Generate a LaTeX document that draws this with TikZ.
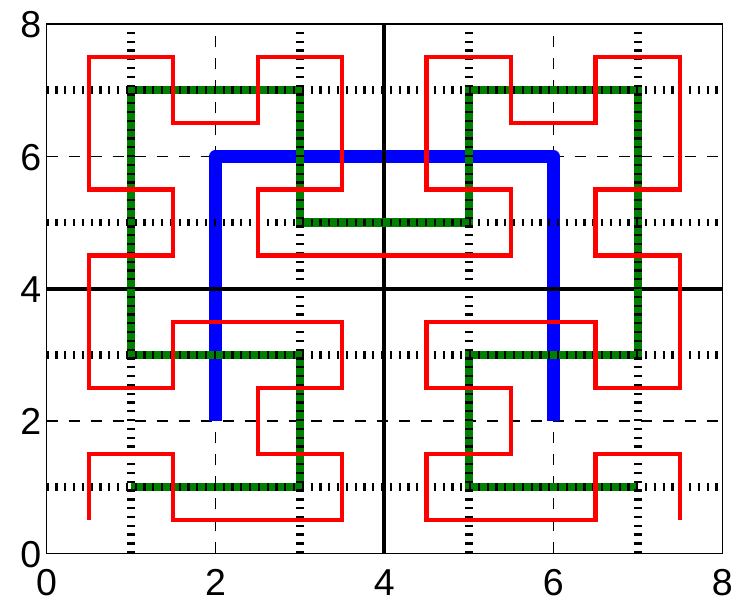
\documentclass[tikz,border=0pt]{standalone}
\usepackage{fontspec}
\setmainfont{Liberation Sans}
\tikzset{
  gridthin/.style={line width=1.1pt, dash pattern=on 11pt off 11pt, black},
  griddot/.style={line width=7.5pt, dash pattern=on 2.3pt off 6.5pt, black},
  axisline/.style={line width=4pt, black},
  bluecurve/.style={line width=12.5pt, blue, line join=round},
  greencurve/.style={line width=8.3pt, green!50!black, line join=miter},
  redcurve/.style={line width=4.3pt, red, line join=miter},
  framebox/.style={line width=1.4pt, black},
  ticklab/.style={font=\fontsize{37.5}{40}\selectfont, inner sep=0pt}
}
\begin{document}
\begin{tikzpicture}[x=84.47pt, y=66.17pt]
\useasboundingbox (-46.5pt,-53.7pt) rectangle (704.5pt,553.3pt);
% dashed grid
\foreach \v in {2,6} {
  \draw[gridthin] (\v,0) -- (\v,8);
  \draw[gridthin] (0,\v) -- (8,\v);
}
% order 1
\draw[bluecurve] (2,2) -- (2,6) -- (6,6) -- (6,2);
% central axes
\draw[axisline] (4,0) -- (4,8);
\draw[axisline] (0,4) -- (8,4);
% order 2
\draw[greencurve] (1,1) -- (3,1) -- (3,3) -- (1,3) -- (1,7) -- (3,7) -- (3,5) -- (5,5) -- (5,7) -- (7,7) -- (7,3) -- (5,3) -- (5,1) -- (7,1);
% dotted grid
\foreach \v in {1,3,5,7} {
  \draw[griddot] (\v,0) -- (\v,8);
  \draw[griddot] (0,\v) -- (8,\v);
}
% order 3
\draw[redcurve] (0.5,0.5) -- (0.5,1.5) -- (1.5,1.5) -- (1.5,0.5) -- (2.5,0.5) -- (3.5,0.5) -- (3.5,1.5) -- (2.5,1.5) -- (2.5,2.5) -- (3.5,2.5) -- (3.5,3.5) -- (2.5,3.5) -- (1.5,3.5) -- (1.5,2.5) -- (0.5,2.5) -- (0.5,3.5) -- (0.5,4.5) -- (1.5,4.5) -- (1.5,5.5) -- (0.5,5.5) -- (0.5,6.5) -- (0.5,7.5) -- (1.5,7.5) -- (1.5,6.5) -- (2.5,6.5) -- (2.5,7.5) -- (3.5,7.5) -- (3.5,6.5) -- (3.5,5.5) -- (2.5,5.5) -- (2.5,4.5) -- (3.5,4.5)
 -- (4.5,4.5) -- (5.5,4.5) -- (5.5,5.5) -- (4.5,5.5) -- (4.5,6.5) -- (4.5,7.5) -- (5.5,7.5) -- (5.5,6.5) -- (6.5,6.5) -- (6.5,7.5) -- (7.5,7.5) -- (7.5,6.5) -- (7.5,5.5) -- (6.5,5.5) -- (6.5,4.5) -- (7.5,4.5) -- (7.5,3.5) -- (7.5,2.5) -- (6.5,2.5) -- (6.5,3.5) -- (5.5,3.5) -- (4.5,3.5) -- (4.5,2.5) -- (5.5,2.5) -- (5.5,1.5) -- (4.5,1.5) -- (4.5,0.5) -- (5.5,0.5) -- (6.5,0.5) -- (6.5,1.5) -- (7.5,1.5) -- (7.5,0.5);
% frame
\draw[framebox] (0,0) rectangle (8,8);
% tick labels
\foreach \v in {0,2,4,6,8} {
  \node[ticklab, anchor=base] (xl\v) at ([yshift=-42pt]\v,0) {\v};
  \node[ticklab, anchor=base east] (yl\v) at ([xshift=-5pt,yshift=-14pt]0,\v) {\v};
}
\end{tikzpicture}
\end{document}
